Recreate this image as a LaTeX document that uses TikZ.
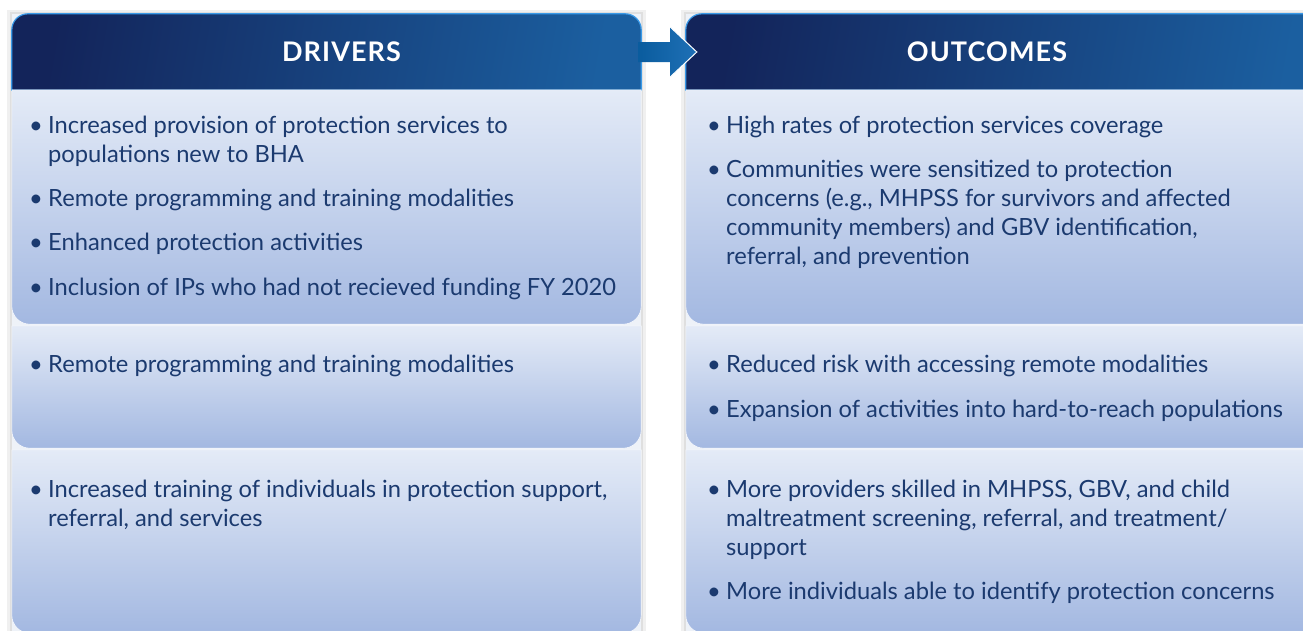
\documentclass[tikz,border=0pt]{standalone}
\usepackage{fontspec}
\setmainfont{Lato}
\usepackage{tikz}
\usetikzlibrary{calc,positioning}
\definecolor{txt}{HTML}{1B3A6F}
\definecolor{hdrA}{HTML}{13245A}
\definecolor{hdrB}{HTML}{1B5FA0}
\definecolor{hdrline}{HTML}{3A9AE8}
\definecolor{panelTop}{HTML}{E4EBF7}
\definecolor{panelMid}{HTML}{B9CDEA}
\definecolor{panelBot}{HTML}{A3B8E1}
\definecolor{colbg}{HTML}{EEF2F8}
\definecolor{arrA}{HTML}{0A5C9E}
\definecolor{arrB}{HTML}{1F70B6}
\newcommand{\bitem}[1]{\makebox[19pt][l]{\textbullet}\parbox[t]{600pt}{#1}}

\begin{document}
\begin{tikzpicture}[x=1pt, y=-1pt,
    hdr/.style={shading=axis, left color=hdrA, right color=hdrB, shading angle=80},
    panel/.style={top color=panelTop, middle color=panelMid, bottom color=panelBot},
    item/.style={anchor=base west, inner sep=0pt, text=txt, align=left,
                 font=\fontsize{23.7}{29}\selectfont},
    title/.style={text=white, font=\fontsize{27}{30}\selectfont\bfseries\addfontfeatures{LetterSpace=4}}]
\useasboundingbox (0,0) rectangle (1303,630);
\clip (0,0) rectangle (1303,630);

% column backgrounds with a soft edge
\foreach \col/\xa/\xb in {drv/12/641, out/686/1330}{
    \fill[gray!12] (\xa-5,10) rectangle (\xb+5,640);
    \fill[gray!25] (\xa-2,12) rectangle (\xb+2,640);
    \fill[colbg] (\xa,14) rectangle (\xb,640);
    % header bar
    \node[minimum width={\xb-\xa}, minimum height=76, inner sep=0pt] (hdr\col) at ({(\xa+\xb)/2},52) {};
    \shade[hdr, draw=hdrline, line width=1.2pt] (hdr\col.south west) [rounded corners=16pt] -- (hdr\col.north west) -- (hdr\col.north east) [sharp corners] -- (hdr\col.south east) -- cycle;
    % the three rows
    \foreach \row/\ya/\yb in {1/90/324, 2/326/448, 3/450/633}{
        \node[minimum width={\xb-\xa}, minimum height={\yb-\ya}, inner sep=0pt] (\col\row) at ({(\xa+\xb)/2},{(\ya+\yb)/2}) {};
        \shade[panel, draw=white!70!panelTop, line width=0.6pt] (\col\row.north west) [rounded corners=18pt] -- (\col\row.south west) -- (\col\row.south east) [sharp corners] -- (\col\row.north east) -- cycle;
    }
}

\node[title] (drvtitle) at ($(hdrdrv.center)+(15,0)$) {DRIVERS};
\node[title] (outtitle) at (987,52) {OUTCOMES};

% arrow from one header to the other
\coordinate (tip) at ($(hdrout.west)+(11,0)$);
\coordinate (headtop) at ($(hdrdrv.east)+(29,-25)$);
\coordinate (headbot) at ($(hdrdrv.east)+(29,25)$);
\shade[left color=arrA, right color=arrB]
    ($(hdrdrv.east)+(-3,-10)$) -- ($(hdrdrv.east)+(29,-10)$) -- (headtop) -- (tip)
    -- (headbot) -- ($(hdrdrv.east)+(29,10)$) -- ($(hdrdrv.east)+(-3,10)$) -- cycle;
\draw[white, line width=1pt] (headtop) -- (tip) -- (headbot);

% drivers
\foreach \y/\t in {133/{Increased provision of protection services to\\populations new to BHA},
                   206/{Remote programming and training modalities},
                   250/{Enhanced protection activities},
                   295/{Inclusion of IPs who had not recieved funding FY 2020},
                   372/{Remote programming and training modalities},
                   497/{Increased training of individuals in protection support,\\referral, and services}}
    \node[item] at (29,\y) {\bitem{\t}};

% outcomes
\foreach \y/\t in {133/{High rates of protection services coverage},
                   177/{Communities were sensitized to protection\\concerns (e.g., MHPSS for survivors and affected\\community members) and GBV identification,\\referral, and prevention},
                   372/{Reduced risk with accessing remote modalities},
                   417/{Expansion of activities into hard-to-reach populations},
                   497/{More providers skilled in MHPSS, GBV, and child\\maltreatment screening, referral, and treatment/\\support},
                   599/{More individuals able to identify protection concerns}}
    \node[item] at (707,\y) {\bitem{\t}};
\end{tikzpicture}
\end{document}
